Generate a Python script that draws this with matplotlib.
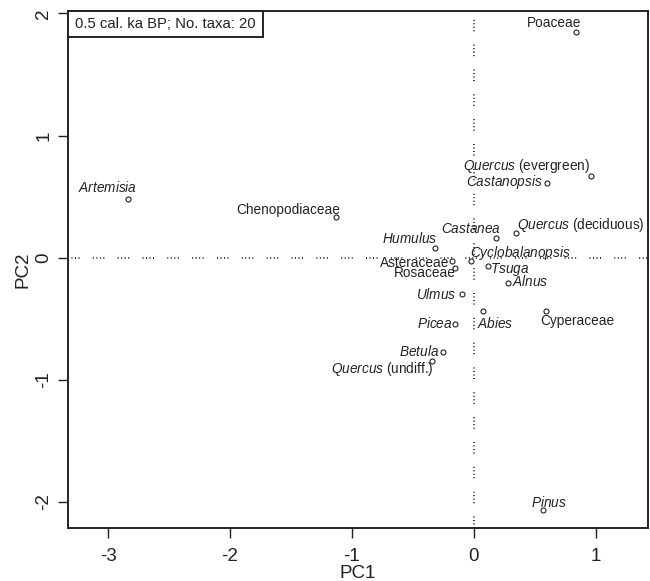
import matplotlib
matplotlib.use("Agg")
import matplotlib.pyplot as plt
from matplotlib.patches import Rectangle

plt.rcParams["font.family"] = ["Liberation Sans", "DejaVu Sans"]
plt.rcParams["mathtext.fontset"] = "custom"
plt.rcParams["mathtext.rm"] = "Liberation Sans"
plt.rcParams["mathtext.it"] = "Liberation Sans:italic"

# PCA taxon scores
taxa = [
    "Poaceae", r"$\mathit{Quercus}$ (evergreen)", r"$\mathit{Castanopsis}$",
    r"$\mathit{Quercus}$ (deciduous)", r"$\mathit{Castanea}$", r"$\mathit{Humulus}$",
    r"$\mathit{Cyclobalanopsis}$", "Asteraceae", "Rosaceae", r"$\mathit{Tsuga}$",
    r"$\mathit{Alnus}$", r"$\mathit{Ulmus}$", r"$\mathit{Abies}$", "Cyperaceae",
    r"$\mathit{Picea}$", r"$\mathit{Betula}$", r"$\mathit{Quercus}$ (undiff.)",
    r"$\mathit{Pinus}$", r"$\mathit{Artemisia}$", "Chenopodiaceae",
]
pc1 = [0.84, 0.96, 0.60, 0.35, 0.18, -0.32, -0.02, -0.18, -0.155, 0.12,
       0.28, -0.10, 0.075, 0.59, -0.15, -0.25, -0.34, 0.565, -2.84, -1.13]
pc2 = [1.85, 0.67, 0.61, 0.20, 0.16, 0.08, -0.03, -0.03, -0.085, -0.07,
       -0.21, -0.30, -0.44, -0.44, -0.54, -0.77, -0.85, -2.07, 0.48, 0.33]

x_ticks = [-3, -2, -1, 0, 1]
y_ticks = [-2, -1, 0, 1, 2]
title_text = "0.5 cal. ka BP; No. taxa: 20"

# label offsets from each point, in pixels (dx right, dy up)
label_offsets_px = [
    (-22, 9), (-64, 10), (-43, 1), (64, 8), (-25, 9), (-25, 9),
    (49, 8), (-37, -2), (-30, -5), (21, -3), (22, 2), (-25, 0),
    (12, -12), (32, -10), (-21, 0), (-24, 0), (-50, -8), (6, 8),
    (-20, 12), (-48, 7),
]

W, H, DPI = 650, 581, 100
fig = plt.figure(figsize=(W / DPI, H / DPI), dpi=DPI)
ax = fig.add_axes([68 / W, 1 - 528 / H, 580 / W, 517 / H])
ax.set_xlim(-3.33, 1.43)
ax.set_ylim(-2.215, 2.02)

dash_pat = (0, (0.6, 1.5, 0.6, 1.5, 0.6, 1.5, 0.6, 8.0))
ax.axhline(0, color="#111111", lw=1.2, linestyle=dash_pat, zorder=1)
ax.axvline(0, color="#111111", lw=1.2, linestyle=dash_pat, zorder=1)

ax.plot(pc1, pc2, linestyle="none", marker="o", markersize=3.6,
        markerfacecolor="white", markeredgecolor="#222222",
        markeredgewidth=0.8, zorder=3)

px2pt = 72 / DPI
for name, x, y, (dx, dy) in zip(taxa, pc1, pc2, label_offsets_px):
    ax.annotate(name, (x, y), xytext=(dx * px2pt, dy * px2pt),
                textcoords="offset points", ha="center", va="center",
                fontsize=9.8, color="#222222", zorder=4)

ax.set_xticks(x_ticks)
ax.set_yticks(y_ticks)
ax.set_xticklabels([str(t) for t in x_ticks])
ax.set_yticklabels([str(t) for t in y_ticks], rotation=90, va="center")
ax.tick_params(axis="both", length=7.2, width=1.0, labelsize=13.5,
               color="#222222", labelcolor="#222222")
ax.tick_params(axis="x", pad=7)
ax.tick_params(axis="y", pad=4)

for side, sp in ax.spines.items():
    sp.set_color("#222222")
    sp.set_linewidth(1.4)

fig.text(358 / W, 1 - 573 / H, "PC1", ha="center", va="center",
         fontsize=13.5, color="#222222")
fig.text(23 / W, 1 - 270 / H, "PC2", ha="center", va="center",
         rotation=90, fontsize=13.5, color="#222222")

# sample label box in the upper-left corner
fig.add_artist(Rectangle((68 / W, 1 - 37 / H), 195 / W, 26 / H,
                         transform=fig.transFigure, facecolor="white",
                         edgecolor="#222222", linewidth=1.4, zorder=5))
fig.text(75 / W, 1 - 24 / H, title_text, ha="left", va="center",
         fontsize=10.7, color="#222222", zorder=6)

fig.savefig("out.png", dpi=DPI)
